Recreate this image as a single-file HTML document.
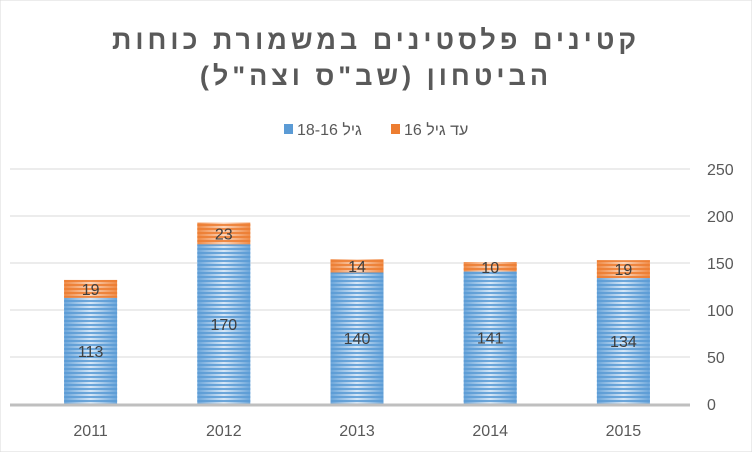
<!DOCTYPE html>
<html><head><meta charset="utf-8"><style>
body{margin:0;background:#fff;}
svg{display:block;font-family:"Liberation Sans",sans-serif;}
</style></head><body>
<svg id="chart" width="752" height="452" viewBox="0 0 752 452">
<defs>
<linearGradient id="blueG" x1="0" x2="1" y1="0" y2="0">
<stop offset="0" stop-color="#6aa5da"/><stop offset="0.5" stop-color="#d6e7f7"/><stop offset="1" stop-color="#6aa5da"/></linearGradient>
<linearGradient id="orangeG" x1="0" x2="1" y1="0" y2="0">
<stop offset="0" stop-color="#f08a45"/><stop offset="0.5" stop-color="#fbd5bb"/><stop offset="1" stop-color="#f08a45"/></linearGradient>
<pattern id="blueS" width="4" height="4" patternUnits="userSpaceOnUse">
<rect width="4" height="2" fill="#5b9bd5" fill-opacity="0.85"/></pattern>
<pattern id="orangeS" width="4" height="4" patternUnits="userSpaceOnUse">
<rect width="4" height="2" fill="#ed7d31" fill-opacity="0.85"/></pattern>
</defs>
<rect width="752" height="452" fill="#fff" stroke="#d9d9d9"/>
<text x="376" y="49" text-anchor="middle" font-size="27" font-weight="bold" fill="#595959" letter-spacing="4">קטינים פלסטינים במשמורת כוחות</text>
<text x="376" y="85" text-anchor="middle" font-size="27" font-weight="bold" fill="#595959" letter-spacing="4">הביטחון (שב"ס וצה"ל)</text>
<g id="legend">
<rect x="284" y="124" width="9" height="10" fill="#5b9bd5"/>
<text x="297" y="135" font-size="16" fill="#595959">18-16 גיל</text>
<rect x="391" y="124" width="9" height="10" fill="#ed7d31"/>
<text x="404" y="135" font-size="16" fill="#595959">16 עד גיל</text>
</g>
<g id="grid"></g><g id="bars"></g><g id="labels"></g>
</svg>
<script>
const categories=["2011","2012","2013","2014","2015"];
const age16to18=[113,170,140,141,134];
const under16=[19,23,14,10,19];
const yTicks=[0,50,100,150,200,250];
const NS="http://www.w3.org/2000/svg";
const X0=24,X1=690,Y0=404,Y1=169,YMAX=250;
const y=v=>Y0-(v/YMAX)*(Y0-Y1);
const band=(X1-X0)/categories.length;
const xc=i=>X0+band*(i+0.5);
const BW=53;
function mk(t,a,p){const e=document.createElementNS(NS,t);for(const k in a)e.setAttribute(k,a[k]);p.appendChild(e);return e;}
const grid=document.getElementById('grid'),bars=document.getElementById('bars'),labels=document.getElementById('labels');
yTicks.forEach(t=>{
 if(t>0){const l=mk('line',{x1:10,x2:X1,y1:y(t),y2:y(t),stroke:'#d9d9d9','stroke-width':1},grid);
 
 }
 const tx=mk('text',{x:707,y:y(t)+6,'font-size':16,fill:'#595959'},labels);tx.textContent=t;
 
 
});
categories.forEach((c,i)=>{
 const x=xc(i)-BW/2;
 const top=age16to18[i]+under16[i];
 const b=mk('rect',{x:x,y:y(age16to18[i]),width:BW,height:Y0-y(age16to18[i]),fill:'url(#blueG)'},bars);
 
 
 const bs=mk('rect',{x:x,y:y(age16to18[i]),width:BW,height:Y0-y(age16to18[i]),fill:'url(#blueS)'},bars);
 
 
 const o=mk('rect',{x:x,y:y(top),width:BW,height:y(age16to18[i])-y(top),fill:'url(#orangeG)'},bars);
 
 
 const os=mk('rect',{x:x,y:y(top),width:BW,height:y(age16to18[i])-y(top),fill:'url(#orangeS)'},bars);
 
 
 const t1=mk('text',{x:xc(i),y:(Y0+y(age16to18[i]))/2+6,'text-anchor':'middle','font-size':16,fill:'#404040'},labels);t1.textContent=age16to18[i];
 
 
 const t2=mk('text',{x:xc(i),y:(y(age16to18[i])+y(top))/2+6,'text-anchor':'middle','font-size':16,fill:'#404040'},labels);t2.textContent=under16[i];
 
 
 const xl=mk('text',{x:xc(i),y:436,'text-anchor':'middle','font-size':16,fill:'#595959'},labels);xl.textContent=c;
 
 
});
const ax=mk('line',{x1:10,x2:X1,y1:Y0+1,y2:Y0+1,stroke:'#bfbfbf','stroke-width':3},labels);


</script>
</body></html>
